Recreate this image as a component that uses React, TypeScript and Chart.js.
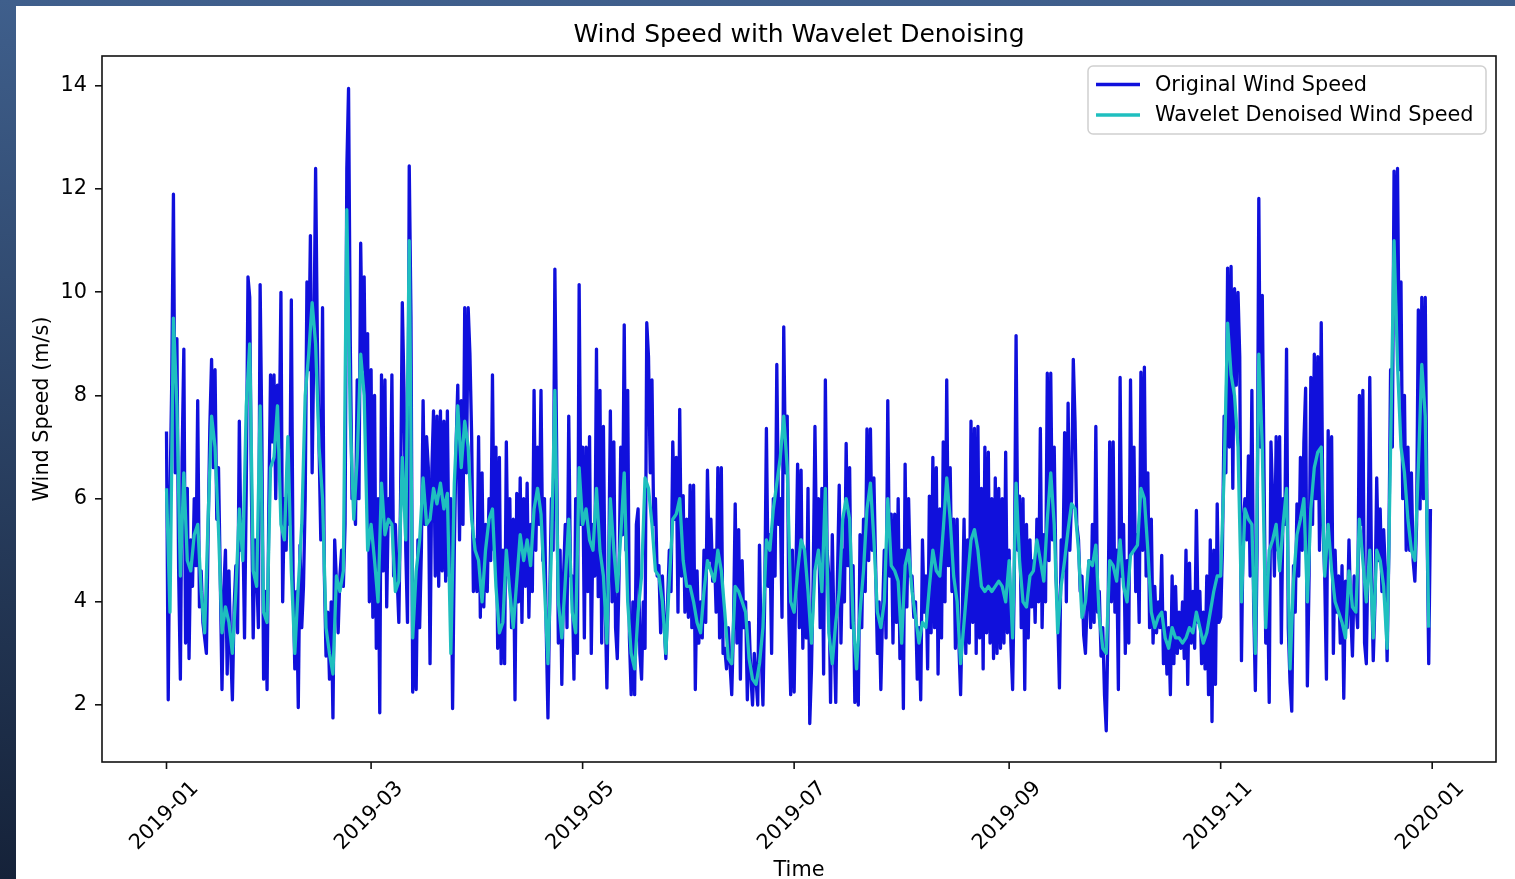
import React, { useEffect, useRef } from "react";
import { Chart, registerables } from "chart.js";

Chart.register(...registerables);

const W = 1515;
const H = 879;
const FONT = '"DejaVu Sans", "Liberation Sans", sans-serif';

// Day index (0 = 2019-01-01) of the first day of each month
const MONTH_START = [0, 31, 59, 90, 120, 151, 181, 212, 243, 273, 304, 334];

// Original wind speed (m/s), two readings per day, by month
const origJan = [7.3,2.1, 6.0,8.2, 11.9,6.5, 9.1,4.6, 2.5,6.8, 8.9,3.2, 6.2,2.9, 5.2,4.3, 6.0,4.7, 7.9,3.9, 4.6,3.6, 3.3,3.0, 5.3,7.4, 8.7,6.6, 8.5,5.6, 6.6,4.5, 2.3,4.2, 5.0,2.6, 4.6,3.1, 2.1,3.9, 4.7,3.4, 7.5,5.0, 5.6,3.3, 6.2,10.3, 9.9,6.1, 3.3,5.2, 4.6,3.5, 10.15,7.2, 2.5,4.2, 2.3,5.8, 8.4,7.1];
const origFeb = [8.4,6.0, 8.2,7.0, 10.0,4.0, 6.0,5.0, 7.0,5.5, 9.85,4.5, 2.7,4.2, 1.95,5.1, 3.5,4.3, 6.0,10.2, 8.5,11.1, 6.5,9.0, 12.4,9.1, 7.0,5.2, 9.7,4.6, 2.95,3.8, 2.5,4.0, 1.75,5.2, 4.4,3.4, 4.5,5.0, 4.3,5.5, 12.4,13.95, 9.0,6.0, 6.0,5.5, 8.3,6.0, 10.95,8.5, 10.3,7.0, 9.2,4.0];
const origMar = [8.5,3.7, 8.0,3.1, 6.0,1.85, 8.4,4.6, 8.3,3.9, 6.0,5.5, 8.4,4.5, 5.5,4.5, 3.6,6.0, 9.8,8.06, 5.0,3.6, 12.45,9.5, 2.25,4.0, 2.3,5.2, 3.5,5.0, 7.9,5.5, 7.2,6.6, 2.8,6.5, 7.7,4.5, 7.6,4.3, 7.7,4.6, 7.5,4.4, 7.7,4.5, 6.0,1.93, 5.0,7.0, 8.2,5.2, 7.9,5.5, 9.7,6.5, 9.7,8.8, 7.2,4.2, 5.2,4.2];
const origApr = [7.2,3.7, 6.5,3.9, 5.5,4.2, 6.0,4.8, 8.4,5.0, 7.0,3.1, 6.8,2.8, 5.0,2.8, 7.1,4.5, 6.0,3.5, 5.6,2.1, 6.1,4.0, 6.4,3.6, 6.0,4.3, 6.3,3.7, 5.5,4.2, 8.1,5.0, 7.0,5.5, 8.1,4.8, 6.0,3.5, 1.75,4.0, 6.0,5.0, 10.45,7.0, 3.2,5.0, 2.4,4.5, 5.5,3.5, 7.6,4.5, 4.5,2.5, 6.0,3.0, 10.15,5.5];
const origMay = [7.0,3.3, 7.0,4.2, 7.2,3.0, 5.5,4.5, 8.9,4.1, 8.1,3.2, 7.4,4.0, 2.33,4.5, 7.7,4.0, 7.1,3.5, 2.9,4.5, 7.0,5.3, 9.37,5.0, 8.1,3.3, 2.2,4.0, 2.2,5.5, 5.8,3.0, 2.5,4.0, 3.1,9.41, 8.75,6.5, 8.3,5.5, 6.0,4.5, 4.7,3.4, 4.5,3.6, 2.9,4.0, 5.0,4.2, 7.1,5.6, 6.8,3.8, 7.73,4.5, 6.06,3.8, 5.6,3.7];
const origJun = [6.26,3.5, 6.26,2.3, 4.6,3.2, 4.0,3.3, 5.0,3.6, 6.55,4.8, 5.6,4.4, 5.0,3.8, 6.6,3.3, 6.6,3.0, 3.1,2.7, 3.5,2.8, 2.2,3.5, 5.9,3.2, 5.4,2.5, 4.8,3.5, 4.0,2.1, 3.6,2.6, 2.0,3.0, 2.5,2.0, 5.1,3.0, 2.0,4.0, 7.36,4.3, 5.3,3.0, 6.0,4.5, 8.6,5.5, 6.0,3.7, 9.33,6.5, 7.6,3.6, 2.2,5.0];
const origJul = [2.25,4.5, 6.67,3.5, 6.55,3.1, 5.0,3.3, 6.2,1.64, 2.7,4.5, 7.4,4.8, 6.0,3.5, 6.2,2.6, 8.3,5.0, 4.5,2.05, 5.3,3.4, 2.05,4.5, 6.26,3.2, 5.0,4.0, 7.07,4.7, 6.6,3.5, 4.7,2.05, 2.8,2.0, 5.3,3.5, 5.6,4.2, 7.35,4.8, 7.35,5.0, 6.4,4.7, 3.0,4.0, 2.3,3.8, 5.0,3.3, 7.9,4.5, 5.7,3.2, 5.7,3.6, 6.0,2.9];
const origAug = [5.0,1.93, 6.67,3.9, 6.0,4.5, 4.5,3.7, 4.0,2.5, 3.5,2.1, 5.2,3.8, 4.5,2.7, 6.05,3.4, 6.8,3.5, 6.6,2.6, 5.8,3.3, 7.1,4.0, 8.3,4.7, 6.6,4.2, 5.6,3.1, 5.6,3.2, 2.2,3.8, 5.6,3.0, 5.2,3.2, 7.5,3.6, 7.36,3.0, 7.4,3.3, 6.2,2.7, 7.0,3.4, 6.9,3.2, 6.0,2.9, 6.4,3.0, 6.2,3.1, 6.0,3.2, 6.9,3.4];
const origSep = [5.0,3.2, 2.3,4.5, 9.16,5.0, 6.05,3.5, 6.0,2.3, 5.5,3.3, 5.2,3.9, 4.8,3.6, 5.6,4.0, 7.36,3.5, 5.3,4.0, 8.43,4.8, 8.43,5.2, 7.0,4.5, 3.8,2.33, 5.2,4.6, 7.28,4.0, 7.85,5.0, 6.0,8.7, 7.5,5.5, 5.2,4.2, 4.5,3.35, 3.0,4.0, 4.8,3.5, 5.5,3.6, 7.4,3.8, 4.2,2.95, 3.5,2.2, 1.5,3.5, 7.1,4.0];
const origOct = [7.1,3.8, 5.0,2.3, 8.35,4.5, 5.5,3.0, 4.8,3.2, 8.3,5.0, 7.0,4.2, 5.3,3.6, 8.45,5.0, 8.55,4.5, 6.5,3.5, 5.6,3.2, 4.3,3.4, 4.0,3.5, 4.9,2.8, 3.8,2.6, 3.5,2.2, 4.5,2.8, 4.3,3.0, 3.8,3.1, 4.0,2.9, 5.0,2.4, 4.75,3.2, 4.2,3.1, 5.77,3.6, 4.2,2.8, 3.8,2.7, 4.5,2.2, 5.2,1.68, 5.0,2.4, 5.9,3.6];
const origNov = [3.7,5.0, 7.6,6.5, 10.47,7.0, 10.5,6.2, 10.07,8.2, 10.0,8.75, 2.86,5.5, 6.0,5.2, 6.83,4.5, 8.1,4.0, 2.28,5.0, 11.82,7.0, 9.94,6.5, 3.2,4.5, 2.05,7.1, 6.0,4.5, 7.2,5.0, 7.2,3.2, 6.0,5.5, 8.9,3.5, 2.45,1.88, 4.7,3.8, 5.9,4.5, 6.8,5.0, 7.1,8.14, 2.37,4.5, 8.35,5.5, 8.8,6.0, 8.75,5.0, 9.41,5.5];
const origDec = [4.5,2.5, 7.32,5.0, 7.2,3.0, 5.0,3.8, 4.5,3.2, 4.7,2.13, 4.4,3.5, 5.2,3.8, 2.95,4.5, 4.0,3.5, 8.0,5.5, 8.1,3.2, 2.8,5.0, 8.35,4.5, 2.86,4.0, 6.4,4.8, 5.8,4.2, 5.4,4.6, 2.86,5.0, 8.5,7.0, 12.35,10.0, 12.4,8.5, 10.2,6.0, 8.0,5.0, 7.0,5.0, 6.5,4.8, 4.4,5.5, 9.66,5.8, 9.9,6.0, 9.9,5.6, 2.8,5.8];

// Wavelet denoised wind speed (m/s), one value per day, by month
const denJan = [6.2,3.8,9.5,7.8,4.5,6.5,4.8,4.6,5.3,5.5,4.2,3.4,5.6,7.6,7.0,5.4,3.4,3.9,3.6,3.0,4.2,5.8,4.8,7.8,9.0,4.6,4.3,7.8,3.8,3.6,6.6];
const denFeb = [6.8,7.8,5.5,5.2,7.2,4.6,3.0,4.3,5.5,8.0,8.8,9.8,9.0,7.0,6.0,3.5,3.0,2.6,4.5,4.2,4.6,11.6,7.5,5.6,6.8,8.8,8.0,5.0];
const denMar = [5.5,4.8,4.0,6.3,5.3,5.6,5.5,4.2,4.4,6.8,5.2,11.0,3.3,4.6,5.2,6.4,5.5,5.6,6.2,5.9,6.3,5.8,6.1,3.0,6.3,7.8,6.6,7.5,7.0,5.6,5.0];
const denApr = [4.8,4.0,5.0,5.6,5.8,4.3,3.4,3.6,5.0,4.2,3.5,4.4,5.3,4.8,5.2,4.7,5.8,6.2,5.7,4.3,2.8,5.0,8.1,4.0,3.3,4.4,5.6,3.8,3.4,6.6];
const denMay = [5.5,5.8,5.2,5.0,6.2,5.0,4.5,3.2,6.0,5.0,4.2,5.3,6.5,4.0,3.0,2.7,3.8,4.5,6.4,6.2,5.5,4.6,4.5,4.0,3.0,4.4,5.6,5.7,6.0,4.8,4.3];
const denJun = [4.3,4.0,3.6,3.4,4.2,4.8,4.6,4.4,5.0,4.6,3.8,2.9,2.8,4.3,4.2,4.0,3.8,2.9,2.5,2.4,2.8,3.5,5.2,5.0,5.8,6.3,6.8,7.6,6.6,4.0];
const denJul = [3.8,4.6,5.2,5.0,4.2,3.2,4.6,5.0,4.2,6.2,3.4,2.8,3.6,4.2,5.6,6.0,5.6,3.6,2.7,3.8,4.6,5.8,6.3,5.2,3.8,3.5,4.0,6.0,4.7,4.6,4.4];
const denAug = [3.2,4.7,5.0,4.2,3.7,3.2,3.6,3.5,4.3,5.0,4.6,4.5,5.4,6.4,5.6,4.5,4.0,2.8,3.6,4.4,5.2,5.4,5.0,4.3,4.2,4.3,4.2,4.3,4.4,4.3,4.0];
const denSep = [4.8,3.3,6.3,4.8,4.0,3.9,4.5,4.6,5.2,4.8,4.4,5.6,6.5,5.5,3.4,4.3,4.8,5.4,5.9,5.8,5.0,3.7,4.0,4.8,4.7,5.1,3.7,3.1,3.0,4.8];
const denOct = [4.7,4.4,5.2,4.3,4.0,4.9,5.0,5.1,6.2,6.0,5.0,3.8,3.5,3.7,3.8,3.3,3.1,3.5,3.3,3.3,3.2,3.3,3.5,3.4,3.8,3.5,3.2,3.4,3.8,4.2,4.5];
const denNov = [4.5,6.5,9.4,8.4,8.0,7.0,4.0,5.8,5.6,5.5,3.0,8.8,7.0,3.5,5.0,5.2,5.5,4.6,5.5,6.2,2.7,4.4,5.3,5.6,6.0,4.0,5.8,6.6,6.9,7.0];
const denDec = [4.5,5.5,4.6,4.0,3.8,3.6,3.3,4.6,3.9,3.8,5.6,4.8,4.0,5.0,3.3,5.0,4.8,4.3,3.1,7.0,11.0,8.6,7.0,6.5,5.6,5.0,4.8,6.6,8.6,7.6,3.5];

const ORIGINAL = [origJan, origFeb, origMar, origApr, origMay, origJun, origJul, origAug, origSep, origOct, origNov, origDec];
const DENOISED = [denJan, denFeb, denMar, denApr, denMay, denJun, denJul, denAug, denSep, denOct, denNov, denDec];

const TICK_DAYS = [0, 59, 120, 181, 243, 304, 365];
const TICK_LABELS = ["2019-01", "2019-03", "2019-05", "2019-07", "2019-09", "2019-11", "2020-01"];
const Y_TICKS = [2, 4, 6, 8, 10, 12, 14];

const TITLE = "Wind Speed with Wavelet Denoising";
const X_TITLE = "Time";
const Y_TITLE = "Wind Speed (m/s)";
const SERIES_NAMES = ["Original Wind Speed", "Wavelet Denoised Wind Speed"];
const BLUE = "#1010dc";
const CYAN = "#1fbfbf";
const LINE_W = 3.3;

function toPoints(months: number[][], perDay: number) {
  const pts: { x: number; y: number }[] = [];
  months.forEach((arr, m) => {
    arr.forEach((v, i) => pts.push({ x: MONTH_START[m] + i / perDay, y: v }));
  });
  return pts;
}

const decorPlugin = {
  id: "decor",
  beforeDraw(chart: any) {
    const ctx = chart.ctx as CanvasRenderingContext2D;
    ctx.save();
    const g = ctx.createLinearGradient(0, 0, 0, H);
    g.addColorStop(0, "#3f5f8c");
    g.addColorStop(1, "#152239");
    ctx.fillStyle = g;
    ctx.fillRect(0, 0, W, H);
    ctx.fillStyle = "#ffffff";
    ctx.fillRect(16, 6, W - 16, H - 6);
    ctx.restore();
  },
  afterDraw(chart: any) {
    const ctx = chart.ctx as CanvasRenderingContext2D;
    const a = chart.chartArea;
    const xs = chart.scales.x;
    ctx.save();
    // frame
    ctx.strokeStyle = "#111";
    ctx.lineWidth = 1.6;
    ctx.strokeRect(a.left, a.top, a.right - a.left, a.bottom - a.top);
    // x tick marks
    ctx.beginPath();
    TICK_DAYS.forEach((d) => {
      const px = xs.getPixelForValue(d);
      ctx.moveTo(px, a.bottom);
      ctx.lineTo(px, a.bottom + 7);
    });
    ctx.stroke();
    // x tick labels (rotated 45, centred on tick)
    ctx.fillStyle = "#000";
    ctx.font = `20.8px ${FONT}`;
    ctx.textAlign = "center";
    ctx.textBaseline = "middle";
    TICK_LABELS.forEach((t, i) => {
      const px = xs.getPixelForValue(TICK_DAYS[i]);
      ctx.save();
      ctx.translate(px - 2, 816);
      ctx.rotate(-Math.PI / 4);
      ctx.fillText(t, 0, 0);
      ctx.restore();
    });
    // axis titles
    ctx.textBaseline = "alphabetic";
    ctx.fillText(X_TITLE, (a.left + a.right) / 2, 876);
    ctx.save();
    ctx.translate(42.5, (a.top + a.bottom) / 2);
    ctx.rotate(-Math.PI / 2);
    ctx.textBaseline = "middle";
    ctx.fillText(Y_TITLE, 0, 0);
    ctx.restore();
    // title
    ctx.font = `25px ${FONT}`;
    ctx.textBaseline = "alphabetic";
    ctx.fillText(TITLE, (a.left + a.right) / 2, 42);
    // legend
    const lx = 1088, ly = 66, lw = 398, lh = 68, r = 5;
    ctx.beginPath();
    ctx.moveTo(lx + r, ly);
    ctx.arcTo(lx + lw, ly, lx + lw, ly + lh, r);
    ctx.arcTo(lx + lw, ly + lh, lx, ly + lh, r);
    ctx.arcTo(lx, ly + lh, lx, ly, r);
    ctx.arcTo(lx, ly, lx + lw, ly, r);
    ctx.closePath();
    ctx.fillStyle = "rgba(255,255,255,0.8)";
    ctx.fill();
    ctx.strokeStyle = "#d0d0d0";
    ctx.lineWidth = 1.5;
    ctx.stroke();
    const rows = [
      { y: 84.5, base: 91, color: BLUE },
      { y: 115, base: 121, color: CYAN },
    ];
    ctx.font = `20.8px ${FONT}`;
    ctx.textAlign = "left";
    rows.forEach((row, i) => {
      ctx.beginPath();
      ctx.strokeStyle = row.color;
      ctx.lineWidth = LINE_W;
      ctx.moveTo(1096, row.y);
      ctx.lineTo(1140, row.y);
      ctx.stroke();
      ctx.fillStyle = "#000";
      ctx.fillText(SERIES_NAMES[i], 1155, row.base);
    });
    ctx.restore();
  },
};

export default function App() {
  const ref = useRef<HTMLCanvasElement>(null);
  useEffect(() => {
    document.body.style.margin = "0";
    document.body.style.overflow = "hidden";
    const canvas = ref.current as HTMLCanvasElement;
    const chart = new Chart(canvas, {
      type: "line",
      data: {
        datasets: [
          {
            label: SERIES_NAMES[0],
            data: toPoints(ORIGINAL, 2),
            borderColor: BLUE,
            borderWidth: LINE_W,
            borderJoinStyle: "round",
            pointRadius: 0,
            tension: 0,
            fill: false,
            order: 2,
          },
          {
            label: SERIES_NAMES[1],
            data: toPoints(DENOISED, 1),
            borderColor: CYAN,
            borderWidth: LINE_W,
            borderJoinStyle: "round",
            pointRadius: 0,
            tension: 0,
            fill: false,
            order: 1,
          },
        ],
      },
      options: {
        responsive: false,
        animation: false,
        devicePixelRatio: 1,
        layout: { padding: { left: 0, right: 19, top: 56, bottom: 0 } },
        plugins: {
          legend: { display: false },
          title: { display: false },
          tooltip: { enabled: false },
        },
        scales: {
          x: {
            type: "linear",
            min: -18.6,
            max: 383.4,
            grid: { display: false },
            border: { display: false },
            ticks: { display: false },
            afterBuildTicks: (s: any) => {
              s.ticks = TICK_DAYS.map((v) => ({ value: v }));
            },
            afterFit: (s: any) => {
              s.height = 117;
            },
          },
          y: {
            type: "linear",
            min: 0.895,
            max: 14.58,
            grid: {
              display: true,
              drawOnChartArea: false,
              drawTicks: true,
              tickLength: 7,
              color: "#111",
              lineWidth: 1.6,
            },
            border: { display: false },
            ticks: {
              color: "#000",
              padding: 8,
              font: { family: FONT, size: 20.8 },
            },
            afterBuildTicks: (s: any) => {
              s.ticks = Y_TICKS.map((v) => ({ value: v }));
            },
            afterFit: (s: any) => {
              s.width = 102;
            },
          },
        },
      },
      plugins: [decorPlugin],
    } as any);
    return () => chart.destroy();
  }, []);
  return <canvas ref={ref} width={W} height={H} style={{ display: "block", width: W, height: H }} />;
}
